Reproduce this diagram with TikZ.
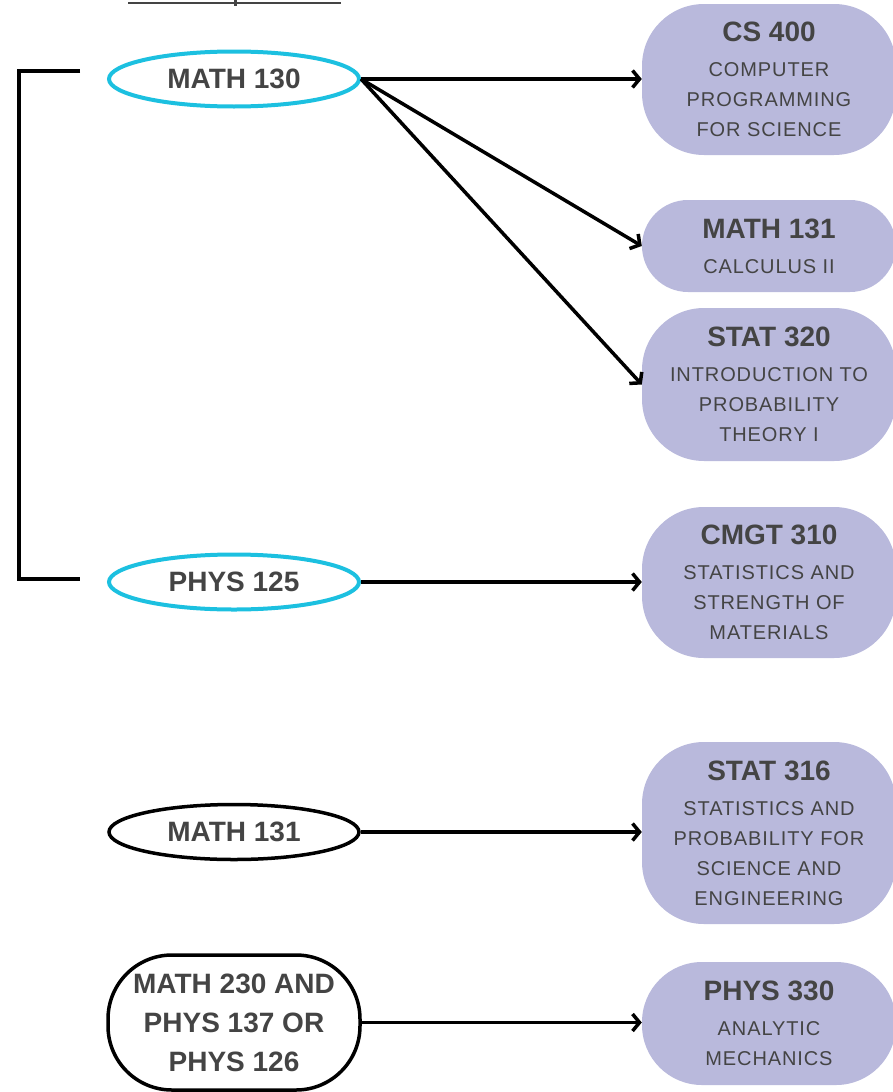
\documentclass[tikz,border=0pt]{standalone}
\usepackage{fontspec}
\setmainfont{Liberation Sans}
\newfontfamily\spacedfont[LetterSpace=4.5]{Liberation Sans}
\usetikzlibrary{shapes.geometric,arrows.meta}
\definecolor{cyanline}{HTML}{1CC0E0}
\definecolor{lavender}{HTML}{B9B9DC}
\definecolor{inkgray}{HTML}{444444}
\newcommand{\ctitle}[1]{{\normalfont\bfseries\fontsize{28}{30}\selectfont #1}}

\begin{document}
\begin{tikzpicture}[x=1pt,y=-1pt,
        prereq/.style = {ellipse, draw=#1, line width=4pt, minimum width=250pt, minimum height=55pt,
                         inner sep=0pt, text=inkgray, font=\bfseries\fontsize{28}{30}\selectfont},
        course/.style = {fill=lavender, rounded corners=#1, minimum width=254pt, inner sep=0pt,
                         align=center, text=inkgray, font=\spacedfont\fontsize{20}{30}\selectfont},
        link/.style = {line width=3.5pt, -{Straight Barb[length=7pt,width=17pt,line width=3.5pt]}},
        ]
        \useasboundingbox (0,0) rectangle (893,1092);
        % underline of the cut-off heading
        \draw[inkgray, line width=2.4pt] (128,2.7) -- (341,2.7);
        \draw[inkgray, line width=3pt] (235,0) -- (235,6);

        \node[prereq=cyanline] (m130) at (234,79) {MATH 130};
        \node[prereq=cyanline] (p125) at (234,582) {PHYS 125};
        \node[prereq=black, line width=3.5pt] (m131) at (234,832) {MATH 131};
        \node[draw, line width=3.5pt, rounded corners=64pt, minimum width=252pt, minimum height=135pt,
              inner sep=0pt, align=center, text=inkgray, font=\bfseries\fontsize{28}{39}\selectfont]
              (m230) at (234,1022.5) {MATH 230 AND\\PHYS 137 OR\\PHYS 126};

        \node[course=62pt, minimum height=151pt] (cs400) at (769,79.5)
              {\ctitle{CS 400}\\[5pt]COMPUTER\\PROGRAMMING\\FOR SCIENCE};
        \node[course=46pt, minimum height=92pt] (c131) at (769,246)
              {\ctitle{MATH 131}\\[5pt]CALCULUS II};
        \node[course=62pt, minimum height=153pt] (st320) at (769,384.5)
              {\ctitle{STAT 320}\\[5pt]INTRODUCTION TO\\PROBABILITY\\THEORY I};
        \node[course=62pt, minimum height=151pt] (cm310) at (769,582.5)
              {\ctitle{CMGT 310}\\[5pt]STATISTICS AND\\STRENGTH OF\\MATERIALS};
        \node[course=62pt, minimum height=182pt] (st316) at (769,833)
              {\ctitle{STAT 316}\\[5pt]STATISTICS AND\\PROBABILITY FOR\\SCIENCE AND\\ENGINEERING};
        \node[course=60pt, minimum height=123pt] (ph330) at (769,1023.5)
              {\ctitle{PHYS 330}\\[5pt]ANALYTIC\\MECHANICS};

        \coordinate (b1) at (80,71);
        \coordinate (b2) at (80,579);
        \draw[line width=3.5pt] (b1) -- (19,71) -- (19,579) -- (b2);

        \draw[link] (m130.east) -- (m130.east -| cs400.west);
        \draw[link] (m130.east) -- (c131.west);
        \draw[link] (m130.east) -- (st320.west);
        \draw[link] (p125.east) -- (p125.east -| cm310.west);
        \draw[link] (m131.east) -- (m131.east -| st316.west);
        \draw[link] (m230.east) -- (m230.east -| ph330.west);
    \end{tikzpicture}
\end{document}
